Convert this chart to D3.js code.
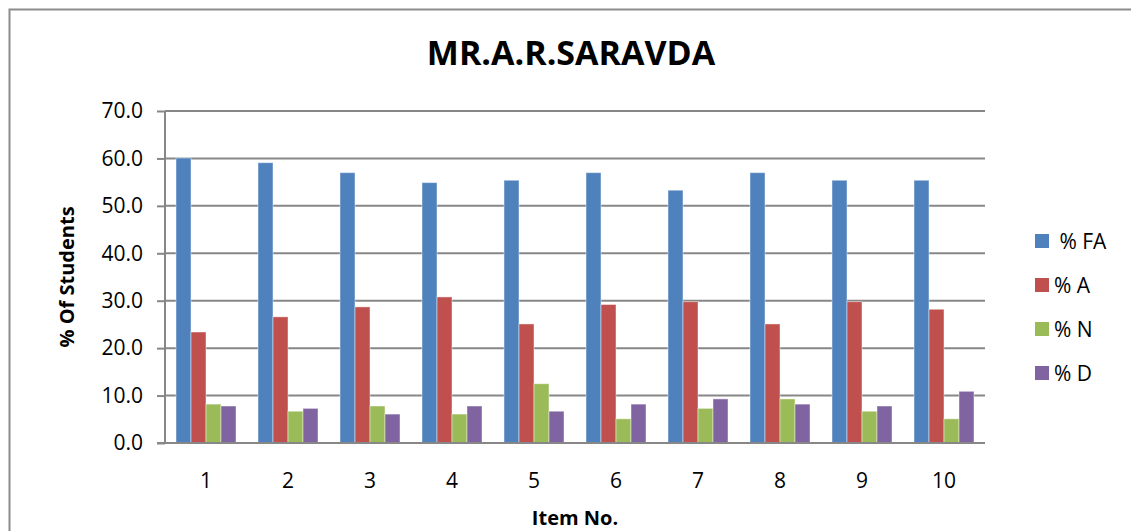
<!DOCTYPE html>
<html>
<head>
<meta charset="UTF-8" />
<script src="https://cdn.jsdelivr.net/npm/d3@7"></script>
<title>MR.A.R.SARAVDA</title>
<style>
    body { margin: 0; background: white; overflow: hidden; }
    svg text { font-family: "Open Sans", "Liberation Sans", sans-serif; fill: #000; }
</style>
</head>
<body>
<div id="chart"></div>
<script>
const items = ["1", "2", "3", "4", "5", "6", "7", "8", "9", "10"];
const seriesNames = [" % FA", "% A", "% N", "% D"];
const pctFA = [60.1, 59.1, 57.0, 54.9, 55.4, 57.0, 53.3, 57.0, 55.4, 55.4];
const pctA  = [23.4, 26.6, 28.7, 30.8, 25.1, 29.2, 29.8, 25.1, 29.8, 28.2];
const pctN  = [8.2, 6.7, 7.8, 6.1, 12.5, 5.1, 7.3, 9.3, 6.7, 5.1];
const pctD  = [7.8, 7.3, 6.1, 7.8, 6.7, 8.2, 9.3, 8.2, 7.8, 10.9];
const yTicks = [0, 10, 20, 30, 40, 50, 60, 70];
const colors = ["#4f81bd", "#c0504d", "#9bbb59", "#8064a2"];

const allSeries = [pctFA, pctA, pctN, pctD];
const w = 1131, h = 531;
const pLeft = 165, pRight = 985, pTop = 111, pBottom = 443;

const svg = d3.select("#chart").append("svg")
    .attr("width", w).attr("height", h).style("display", "block");

// outer chart border (runs off the right and bottom edges)
svg.append("rect")
    .attr("x", 9.5).attr("y", 9.5)
    .attr("width", w + 20).attr("height", h + 20)
    .attr("fill", "none").attr("stroke", "#8c8c8c").attr("stroke-width", 2);

const x0 = d3.scaleBand().domain(items).range([pLeft, pRight]);
const x1 = d3.scaleBand().domain(d3.range(4)).range([0, 60]);
const y = d3.scaleLinear().domain([0, 70]).range([pBottom, pTop]);

// gridlines
svg.append("g").selectAll("line").data(yTicks.slice(1)).enter().append("line")
    .attr("x1", pLeft).attr("x2", pRight)
    .attr("y1", d => y(d)).attr("y2", d => y(d))
    .attr("stroke", "#878787").attr("stroke-width", 2);

// bars
const groups = svg.append("g").selectAll("g").data(items).enter().append("g")
    .attr("transform", d => "translate(" + (x0(d) + (x0.bandwidth() - 60) / 2) + ",0)");
groups.selectAll("rect")
    .data((d, i) => allSeries.map((s, k) => ({k: k, v: s[i]})))
    .enter().append("rect")
    .attr("x", d => x1(d.k)).attr("width", x1.bandwidth())
    .attr("y", d => y(d.v)).attr("height", d => y(0) - y(d.v))
    .attr("fill", d => colors[d.k])
    .attr("stroke", "rgba(255,255,255,0.45)").attr("stroke-width", 1);

// y axis
const yAxis = d3.axisLeft(y).tickValues(yTicks).tickFormat(d3.format(".1f"))
    .tickSize(8).tickPadding(14);
const gy = svg.append("g").attr("transform", "translate(" + pLeft + ",0)").call(yAxis);
gy.select(".domain").attr("stroke", "#878787").attr("stroke-width", 2).attr("d", "M0," + pTop + "V" + (pBottom + 1));
gy.selectAll(".tick line").attr("stroke", "#878787").attr("stroke-width", 2);
gy.selectAll(".tick text").style("font-size", "21px").attr("fill", "#000");

// x axis
const xAxis = d3.axisBottom(x0).tickSize(0).tickPadding(30);
const gx = svg.append("g").attr("transform", "translate(0," + pBottom + ")").call(xAxis);
gx.select(".domain").attr("stroke", "#878787").attr("stroke-width", 2).attr("d", "M" + (pLeft - 8) + ",0H" + pRight);
gx.selectAll(".tick text").style("font-size", "21px").attr("fill", "#000");

// title and axis titles
svg.append("text").attr("x", 571).attr("y", 65)
    .attr("text-anchor", "middle").style("font-size", "34px").style("font-weight", "bold")
    .text("MR.A.R.SARAVDA");
svg.append("text").attr("x", 575).attr("y", 525)
    .attr("text-anchor", "middle").style("font-size", "20px").style("font-weight", "bold")
    .text("Item No.");
svg.append("text").attr("transform", "translate(74,277) rotate(-90)")
    .attr("text-anchor", "middle").style("font-size", "20px").style("font-weight", "bold")
    .text("% Of Students");

// legend
const legend = svg.append("g").selectAll("g").data(seriesNames).enter().append("g")
    .attr("transform", (d, i) => "translate(1035," + (241 + i * 44) + ")");
legend.append("rect").attr("x", 0).attr("y", -7).attr("width", 14).attr("height", 14)
    .attr("fill", (d, i) => colors[i]);
legend.append("text").attr("x", 19).attr("y", 8)
    .style("font-size", "21px").style("white-space", "pre").text(d => d);
</script>
</body>
</html>
